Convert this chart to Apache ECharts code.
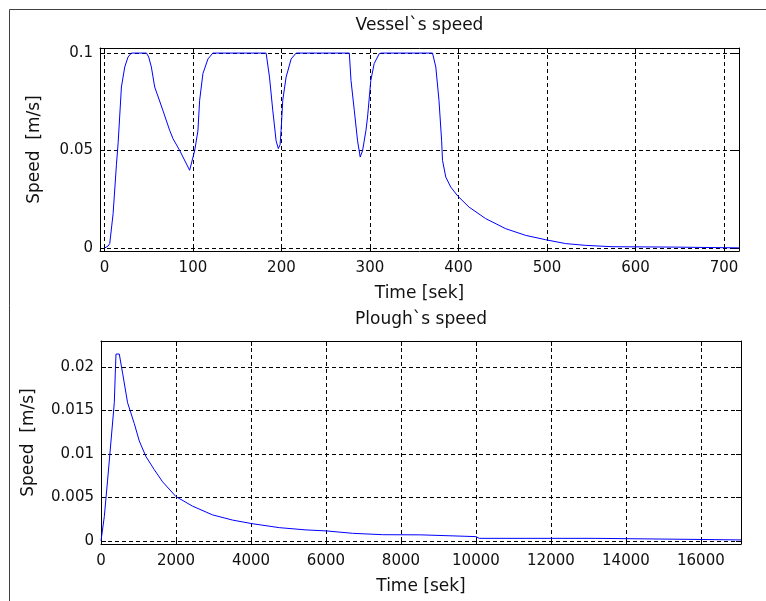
<!DOCTYPE html>
<html>
<head>
<meta charset="utf-8">
<script src="https://cdn.jsdelivr.net/npm/echarts@6/dist/echarts.min.js"></script>
<style>
html,body{margin:0;padding:0;background:#fff;}
#chart{width:766px;height:601px;}
</style>
</head>
<body>
<div id="chart"></div>
<script>
// ---- Data ----
var vesselTitle = "Vessel`s speed";
var ploughTitle = "Plough`s speed";
var xName = "Time [sek]";
var yName = "Speed  [m/s]";

var vesselXTicks = [0, 100, 200, 300, 400, 500, 600, 700];
var vesselYTicks = [0, 0.05, 0.1];
var ploughXTicks = [0, 2000, 4000, 6000, 8000, 10000, 12000, 14000, 16000];
var ploughYTicks = [0, 0.005, 0.01, 0.015, 0.02];

var vesselTime = [0, 4, 6, 9.8, 13.6, 15.5, 19.2, 23, 26.7, 30.5, 47.5, 50, 53, 56.8, 66, 73.7, 77.5, 85, 96.3, 98.2,
  102, 105.6, 107.6, 111.3, 117, 122.5, 182.7, 186.5, 190.2, 194, 196.5, 198.5, 199.6, 201.5, 205.3, 211, 216.6,
  276.7, 278.6, 282.3, 286, 289, 291, 291.7, 295.5, 297.3, 301, 304.8, 310.5, 313, 370.7, 374.4, 378, 381, 382,
  385.7, 391.3, 399.2, 412, 430.8, 453.4, 476, 498.4, 521, 543.5, 573.5, 645, 646, 717];
var vesselSpeed = [0, 0.001, 0.0023, 0.0176, 0.043, 0.054, 0.0826, 0.0929, 0.098, 0.1, 0.1, 0.098, 0.0929, 0.0826, 0.0707, 0.0604, 0.0561, 0.0501, 0.0399, 0.039,
  0.050, 0.060, 0.0758, 0.0895, 0.097, 0.1, 0.1, 0.0877, 0.0707, 0.055, 0.051, 0.053, 0.0604, 0.0758, 0.0877, 0.097, 0.1,
  0.1, 0.086, 0.0707, 0.055, 0.0467, 0.047, 0.050, 0.0604, 0.0672, 0.086, 0.0946, 0.0997, 0.1, 0.1, 0.0929, 0.0758, 0.055, 0.045,
  0.0364, 0.0313, 0.0267, 0.021, 0.0151, 0.00995, 0.0065, 0.0043, 0.0023, 0.0014, 0.0007, 0.0005, 0.0001, 0.0001];

var ploughTime = [0, 88, 176, 267, 355, 381, 400, 488, 576, 709, 888, 1021, 1200, 1421, 1643, 2000, 2443, 2976, 3509, 4016,
  4755, 5467, 6027, 6709, 7509, 8533, 8576, 10000, 10088, 13200, 13243, 17070];
var ploughSpeed = [0, 0.0028, 0.007, 0.0115, 0.0159, 0.0193, 0.0215, 0.0215, 0.0193, 0.0159, 0.0135, 0.0115, 0.0097, 0.0082, 0.0068, 0.0051, 0.004, 0.003, 0.0024, 0.002,
  0.00153, 0.00127, 0.00115, 0.00088, 0.00072, 0.0007, 0.0005, 0.0005, 0.0003, 0.0003, 0.00012, 0.00012];

var vesselXRange = [-5, 717];
var vesselYRange = [-0.0015, 0.1026];
var ploughXRange = [0, 17070];
var ploughYRange = [-0.00035, 0.0230];

function zip(a, b) { return a.map(function (v, i) { return [v, b[i]]; }); }

var FONT = 'DejaVu Sans';
var TXT = '#111';
var NAME_SIZE = 17;
var TICK_SIZE = 15;
var dash = { color: '#000', width: 1, type: [4, 3] };

function fmt(v) { return String(v); }

function mainX(gi, range, ticks) {
  return {
    type: 'value', gridIndex: gi, min: range[0], max: range[1], position: 'bottom',
    name: xName, nameLocation: 'middle', nameGap: 34,
    nameTextStyle: { fontFamily: FONT, fontSize: NAME_SIZE, color: TXT },
    axisLine: { show: true, onZero: false, lineStyle: { color: '#000', width: 1 } },
    axisTick: { show: true, inside: true, length: 5, customValues: ticks, lineStyle: { color: '#000' } },
    axisLabel: { show: true, customValues: ticks, formatter: fmt, margin: 10, fontFamily: FONT, fontSize: TICK_SIZE, color: TXT },
    splitLine: { show: true, lineStyle: dash }
  };
}
function topX(gi, range, ticks, title, gap) {
  return {
    type: 'value', gridIndex: gi, min: range[0], max: range[1], position: 'top',
    name: title, nameLocation: 'middle', nameGap: gap,
    nameTextStyle: { fontFamily: FONT, fontSize: NAME_SIZE, color: TXT },
    axisLine: { show: true, onZero: false, lineStyle: { color: '#000', width: 1 } },
    axisTick: { show: true, inside: true, length: 5, customValues: ticks, lineStyle: { color: '#000' } },
    axisLabel: { show: false },
    splitLine: { show: false }
  };
}
function mainY(gi, range, ticks, gap) {
  return {
    type: 'value', gridIndex: gi, min: range[0], max: range[1], position: 'left',
    name: yName, nameLocation: 'middle', nameGap: gap, nameRotate: 90,
    nameTextStyle: { fontFamily: FONT, fontSize: NAME_SIZE, color: TXT },
    axisLine: { show: true, onZero: false, lineStyle: { color: '#000', width: 1 } },
    axisTick: { show: true, inside: true, length: 5, customValues: ticks, lineStyle: { color: '#000' } },
    axisLabel: { show: true, customValues: ticks, formatter: fmt, margin: 7, fontFamily: FONT, fontSize: TICK_SIZE, color: TXT },
    splitLine: { show: true, lineStyle: dash }
  };
}
function rightY(gi, range, ticks) {
  return {
    type: 'value', gridIndex: gi, min: range[0], max: range[1], position: 'right',
    axisLine: { show: true, onZero: false, lineStyle: { color: '#000', width: 1 } },
    axisTick: { show: true, inside: true, length: 5, customValues: ticks, lineStyle: { color: '#000' } },
    axisLabel: { show: false },
    splitLine: { show: false }
  };
}

var chart = echarts.init(document.getElementById('chart'), null, { renderer: 'canvas' });
chart.setOption({
  backgroundColor: '#fff',
  animation: false,
  graphic: [{
    type: 'rect', shape: { x: 9.5, y: 9.5, width: 800, height: 700 },
    style: { fill: 'none', stroke: '#404040', lineWidth: 1 }, silent: true, z: -10
  }],
  grid: [
    { left: 100, top: 48, width: 639, height: 203, show: false },
    { left: 101, top: 341, width: 640, height: 203, show: false }
  ],
  xAxis: [
    mainX(0, vesselXRange, vesselXTicks),
    topX(0, vesselXRange, vesselXTicks, vesselTitle, 14),
    mainX(1, ploughXRange, ploughXTicks),
    topX(1, ploughXRange, ploughXTicks, ploughTitle, 13)
  ],
  yAxis: [
    mainY(0, vesselYRange, vesselYTicks, 57),
    rightY(0, vesselYRange, vesselYTicks),
    mainY(1, ploughYRange, ploughYTicks, 64),
    rightY(1, ploughYRange, ploughYTicks)
  ],
  series: [
    {
      type: 'line', xAxisIndex: 0, yAxisIndex: 0, data: zip(vesselTime, vesselSpeed),
      showSymbol: false, symbol: 'none', lineStyle: { color: '#0000ff', width: 1 }, z: 5
    },
    {
      type: 'line', xAxisIndex: 2, yAxisIndex: 2, data: zip(ploughTime, ploughSpeed),
      showSymbol: false, symbol: 'none', lineStyle: { color: '#0000ff', width: 1 }, z: 5
    }
  ]
});
</script>
</body>
</html>
